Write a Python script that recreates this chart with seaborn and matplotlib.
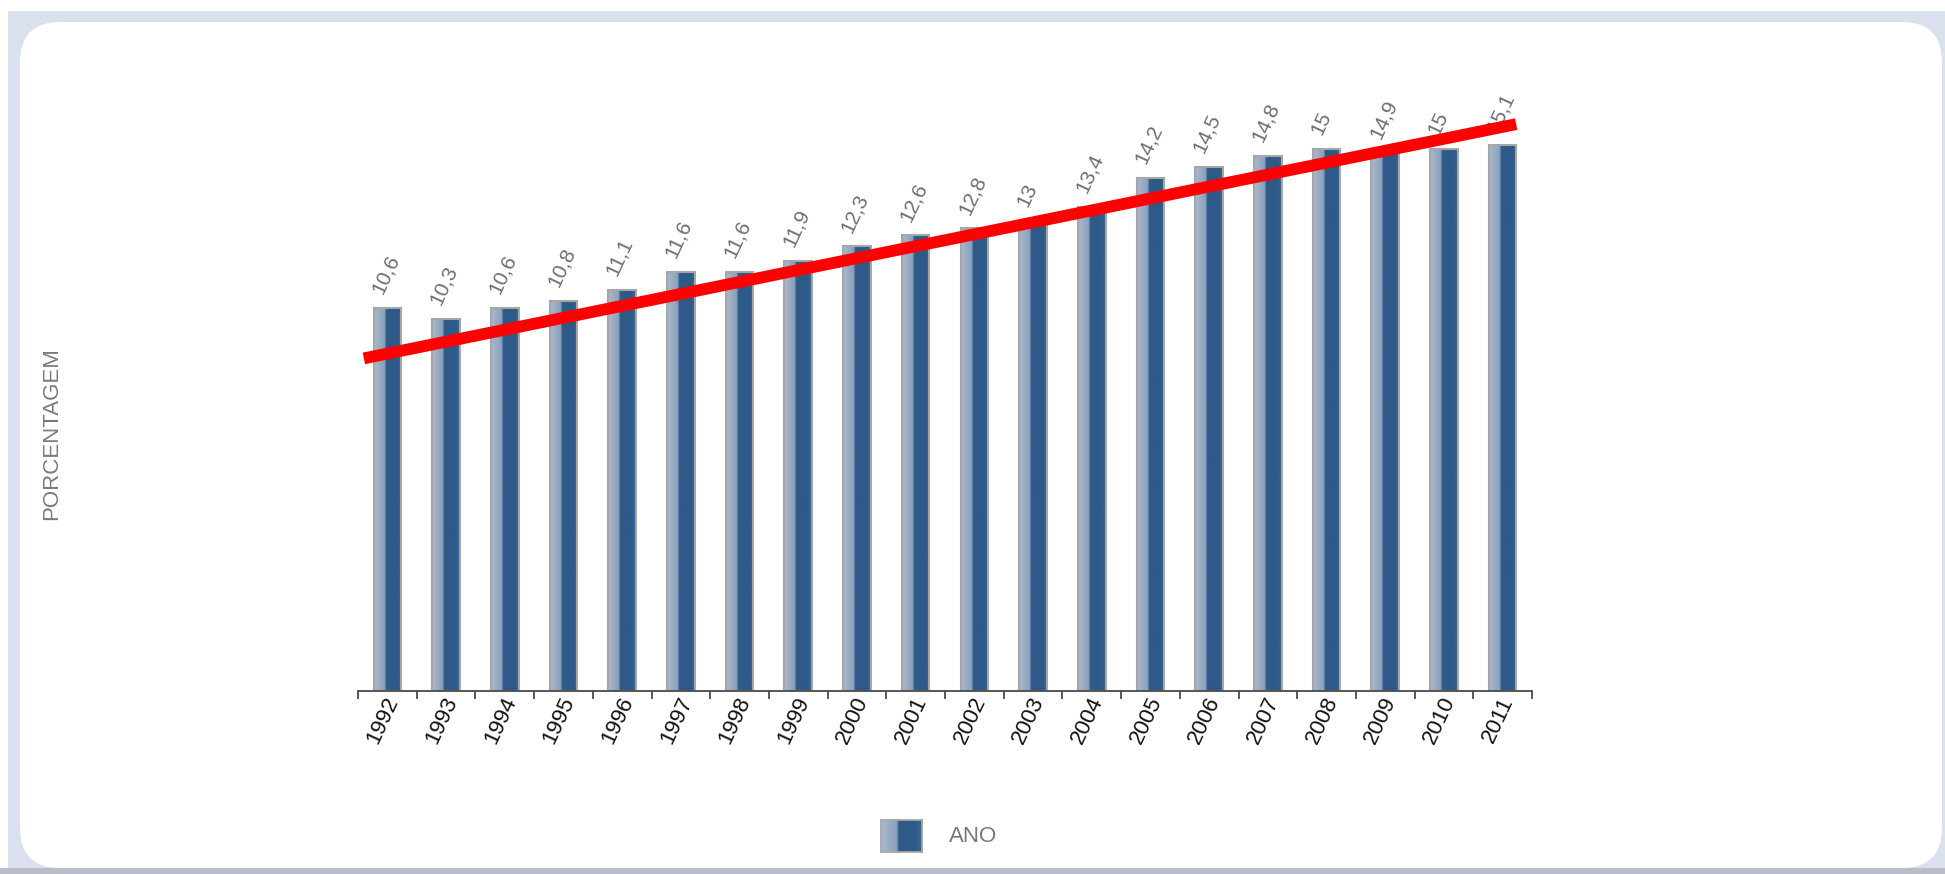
import numpy as np
import pandas as pd
import matplotlib
matplotlib.use("Agg")
import matplotlib.pyplot as plt
import seaborn as sns
from matplotlib.colors import LinearSegmentedColormap
from matplotlib.patches import FancyBboxPatch, Rectangle
from matplotlib.transforms import IdentityTransform, ScaledTranslation

# dados
anos = [str(a) for a in range(1992, 2012)]
porcentagem = [10.6, 10.3, 10.6, 10.8, 11.1, 11.6, 11.6, 11.9, 12.3, 12.6,
               12.8, 13.0, 13.4, 14.2, 14.5, 14.8, 15.0, 14.9, 15.0, 15.1]
# linha de tendencia desenhada a mao (inicio e fim, em indice de categoria)
tendencia_x = [-0.4, 19.23]
tendencia_y = [9.2, 15.68]

W, H = 1945, 874
sns.set_theme(style="white")
plt.rcParams['font.family'] = ['Liberation Sans', 'DejaVu Sans']

fig = plt.figure(figsize=(W / 100, H / 100), dpi=100, facecolor="white")

# fundo azulado + cartao branco arredondado
fig.add_artist(Rectangle((8, 0), W, H - 11, transform=IdentityTransform(),
                         facecolor="#dae0ee", edgecolor="none", zorder=-10))
fig.add_artist(Rectangle((0, 0), W, 6, transform=IdentityTransform(),
                         facecolor="#b9bdc9", edgecolor="none", zorder=-9))
fig.add_artist(FancyBboxPatch((20, 6), 1922, 846, boxstyle="round,pad=0,rounding_size=40",
                              transform=IdentityTransform(), facecolor="white",
                              edgecolor="none", zorder=-8))

ax = fig.add_axes([358 / W, 1 - 691 / H, 1174 / W, (691 - 80) / H])
ax.patch.set_alpha(0)

df = pd.DataFrame({"ano": anos, "porcentagem": porcentagem})
sns.barplot(data=df, x="ano", y="porcentagem", color="#2d5a87", saturation=1,
            width=0.47, edgecolor="#a6a6a6", linewidth=1.5, ax=ax)

# gradiente das barras
cmap = LinearSegmentedColormap.from_list(
    "barra", [(0, "#a9b9cd"), (0.38, "#8aa1bc"), (0.44, "#2d5a87"),
              (0.85, "#2d5a87"), (1.0, "#3a6590")])
grad = np.linspace(0, 1, 100).reshape(1, -1)
for p in list(ax.patches):
    x0, y0, w, h = p.get_x(), p.get_y(), p.get_width(), p.get_height()
    im = ax.imshow(grad, extent=[x0, x0 + w, y0, y0 + h], aspect="auto",
                   cmap=cmap, zorder=1.5, interpolation="bilinear")
    im.set_clip_path(p)
    p.set_facecolor("none")
    p.set_zorder(2)

ax.set_xlim(-0.5, len(anos) - 0.5)
ax.set_ylim(0, 16.9)

# rotulos de valor
for i, v in enumerate(porcentagem):
    txt = ("%g" % v).replace(".", ",")
    ax.annotate(txt, xy=(i, v), xytext=(-4, 9), textcoords="offset points",
                rotation=65, rotation_mode="anchor", ha="left", va="baseline",
                color="#6e6e6e", fontsize=15, zorder=3)

ax.plot(tendencia_x, tendencia_y, color="#ff0000", lw=8.5,
        solid_capstyle="butt", zorder=5, clip_on=False)

for s in ["top", "right", "left"]:
    ax.spines[s].set_visible(False)
ax.spines["bottom"].set_color("#4a4a4a")
ax.spines["bottom"].set_linewidth(1.3)
ax.set_yticks([])
ax.set_xticks(np.arange(-0.5, len(anos), 1), minor=True)
ax.tick_params(axis="x", which="minor", length=6, width=1.3, color="#4a4a4a",
               direction="out", bottom=True)
ax.tick_params(axis="x", which="major", length=0, pad=5, labelsize=16,
               labelcolor="#111111")
desloc = ScaledTranslation(6 / 100, 0, fig.dpi_scale_trans)
for lbl in ax.get_xticklabels():
    lbl.set_rotation(65)
    lbl.set_ha("right")
    lbl.set_va("center")
    lbl.set_rotation_mode("anchor")
    lbl.set_transform(lbl.get_transform() + desloc)
ax.set_xlabel("")
ax.set_ylabel("")

fig.text(52 / W, 1 - 434 / H, "PORCENTAGEM", rotation=90, color="#7a7a7a",
         fontsize=16, ha="center", va="center")

# legenda
lax = fig.add_axes([881 / W, 1 - 852 / H, 41 / W, 32 / H])
lax.imshow(grad, aspect="auto", cmap=cmap, interpolation="bilinear")
lax.set_xticks([])
lax.set_yticks([])
for s in lax.spines.values():
    s.set_color("#a6a6a6")
    s.set_linewidth(1.3)
fig.text(949 / W, 1 - 836 / H, "ANO", color="#777777", fontsize=16,
         ha="left", va="center")

fig.savefig("out.png", dpi=100, facecolor=fig.get_facecolor())
